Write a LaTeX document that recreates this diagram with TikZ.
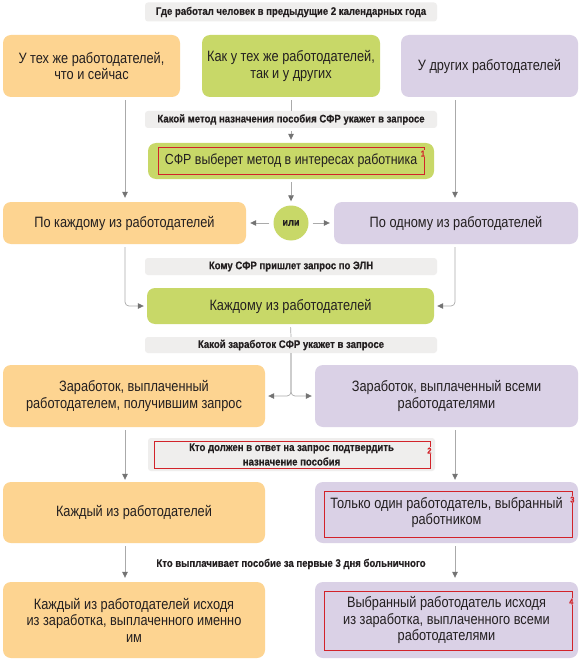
\documentclass[tikz,border=0pt]{standalone}
\usepackage{fontspec}
\setmainfont{Liberation Sans}[FakeStretch=0.85]
\newfontfamily\lblfont{Liberation Sans Bold}[FakeStretch=0.87,FakeBold=0.4]
\usetikzlibrary{arrows.meta,calc}
\definecolor{orangeC}{RGB}{253,212,145}
\definecolor{greenC}{RGB}{200,216,104}
\definecolor{purpleC}{RGB}{218,209,230}
\definecolor{greyC}{RGB}{239,238,237}
\definecolor{lineC}{RGB}{170,170,170}
\definecolor{tipC}{RGB}{115,115,115}
\definecolor{redC}{RGB}{210,35,42}
\definecolor{textC}{RGB}{35,31,32}
\begin{document}
\begin{tikzpicture}[x=1pt,y=-1pt,
 box/.style={rounded corners=8pt, inner sep=0pt, align=center, text=textC, font=\fontsize{15}{16.5}\selectfont},
 obox/.style={box, fill=orangeC},
 gbox/.style={box, fill=greenC},
 pbox/.style={box, fill=purpleC},
 qlabel/.style={rounded corners=3pt, fill=greyC, inner sep=0pt, minimum width=292pt, align=center, text=textC, font=\lblfont\fontsize{11}{14.5}\selectfont},
 redbox/.style={draw=redC, line width=0.7pt, inner sep=0pt},
 num/.style={text=redC, font=\lblfont\fontsize{8.5}{8.5}\selectfont, inner sep=0.8pt},
 conn/.style={draw=lineC, line width=0.7pt},
 arr/.style={conn, -{Triangle[length=6pt,width=5.5pt,color=tipC]}},
]
\useasboundingbox[fill=white] (0,0) rectangle (580,663);
\coordinate (colL) at (125,0);
\coordinate (colR) at (455,0);

\node[qlabel, minimum height=19pt] (title) at (291,12) {Где работал человек в предыдущие 2 календарных года};
\node[obox, minimum width=177pt, minimum height=62pt] (t1) at (91.5,66) {У тех же работодателей,\\что и сейчас};
\node[gbox, minimum width=178pt, minimum height=62pt] (t2) at (291,66) {Как у тех же работодателей,\\так и у других};
\node[pbox, minimum width=177pt, minimum height=62pt] (t3) at (489.5,66) {У других работодателей};

\node[qlabel, minimum height=17pt] (q1) at (291,119.5) {Какой метод назначения пособия СФР укажет в запросе};
\node[gbox, minimum width=286pt, minimum height=36pt, font=\fontsize{14.6}{16.5}\selectfont] (sfr) at (291,161) {СФР выберет метод в интересах работника};
\node[redbox, minimum width=266pt, minimum height=27pt] (sfrR) at (291,160.5) {};
\node[num, fill=greenC] (n1) at ($(sfrR.north east)+(-1.5,7)$) {1};

\node[circle, fill=greenC, minimum size=35pt, inner sep=0pt, text=textC, font=\lblfont\fontsize{10.5}{12}\selectfont] (ili) at (291,223) {или};
\node[obox, minimum width=243pt, minimum height=42pt] (mL) at (124.5,223) {По каждому из работодателей};
\node[pbox, minimum width=244pt, minimum height=42pt] (mR) at (456,223) {По одному из работодателей};

\node[qlabel, minimum height=17pt] (q2) at (291,266.5) {Кому СФР пришлет запрос по ЭЛН};
\node[gbox, minimum width=287pt, minimum height=36pt] (g2) at (290.5,306) {Каждому из работодателей};

\node[qlabel, minimum height=16pt] (q3) at (291,345) {Какой заработок СФР укажет в запросе};
\node[obox, minimum width=262pt, minimum height=62pt] (o3) at (134,396) {Заработок, выплаченный\\работодателем, получившим запрос};
\node[pbox, minimum width=263pt, minimum height=62pt] (p3) at (446.5,396) {Заработок, выплаченный всеми\\работодателями};

\node[qlabel, minimum width=287pt, minimum height=33pt] (q4) at (291.5,454.5) {Кто должен в ответ на запрос подтвердить\\назначение пособия};
\node[redbox, minimum width=276pt, minimum height=27pt] (q4R) at (292,454.5) {};
\node[num, fill=greyC] (n2) at ($(q4R.north east)+(-1,10)$) {2};

\node[obox, minimum width=262pt, minimum height=61pt] (o4) at (134,512.5) {Каждый из работодателей};
\node[pbox, minimum width=263pt, minimum height=61pt] (p4) at (446.5,512.5) {Только один работодатель, выбранный\\работником};
\node[redbox, minimum width=248pt, minimum height=46pt] (p4R) at (448,514) {};
\node[num, fill=purpleC] (n3) at ($(p4R.north east)+(0,9)$) {3};

\node[text=textC, inner sep=0pt, font=\lblfont\fontsize{11}{14.5}\selectfont] (q5) at (291,564) {Кто выплачивает пособие за первые 3 дня больничного};
\node[obox, minimum width=262pt, minimum height=76pt] (o5) at (134,620) {Каждый из работодателей исходя\\из заработка, выплаченного именно\\им};
\node[pbox, minimum width=263pt, minimum height=76pt] (p5) at (446.5,620) {Выбранный работодатель исходя\\из заработка, выплаченного всеми\\работодателями};
\node[redbox, minimum width=248pt, minimum height=59pt] (p5R) at (448,620.5) {};
\node[num, fill=purpleC] (n4) at ($(p5R.north east)+(-1,11)$) {4};

% connectors
\draw[arr, shorten <=3pt, shorten >=4pt] (t1.south -| colL) -- (mL.north -| colL);
\draw[arr, shorten <=3pt, shorten >=4pt] (t3.south -| colR) -- (mR.north -| colR);
\draw[conn, shorten <=3pt] (t2.south) -- (q1.north);
\draw[arr, shorten <=3pt, shorten >=3pt] (q1.south) -- (sfr.north);
\draw[arr, shorten <=3pt, shorten >=4pt] (sfr.south) -- (ili.north);
\draw[arr, shorten <=4pt, shorten >=4pt] (ili.west) -- (mL.east);
\draw[arr, shorten <=4pt, shorten >=4pt] (ili.east) -- (mR.west);
\draw[arr, rounded corners=4pt, shorten <=3pt, shorten >=3pt] (mL.south -| colL) |- (g2.west);
\draw[arr, rounded corners=4pt, shorten <=3pt, shorten >=3pt] (mR.south -| colR) |- (g2.east);
\draw[conn, shorten <=3pt] (g2.south) -- (q3.north);
\draw[arr, rounded corners=4pt, shorten >=3pt] (q3.south) |- (o3.east);
\draw[arr, rounded corners=4pt, shorten >=3pt] (q3.south) |- (p3.west);
\draw[arr, shorten <=3pt, shorten >=2pt] (o3.south -| colL) -- (o4.north -| colL);
\draw[arr, shorten <=3pt, shorten >=2pt] (p3.south -| colR) -- (p4.north -| colR);
\draw[arr, shorten <=3pt, shorten >=4pt] (o4.south -| colL) -- (o5.north -| colL);
\draw[arr, shorten <=3pt, shorten >=4pt] (p4.south -| colR) -- (p5.north -| colR);
\end{tikzpicture}
\end{document}
